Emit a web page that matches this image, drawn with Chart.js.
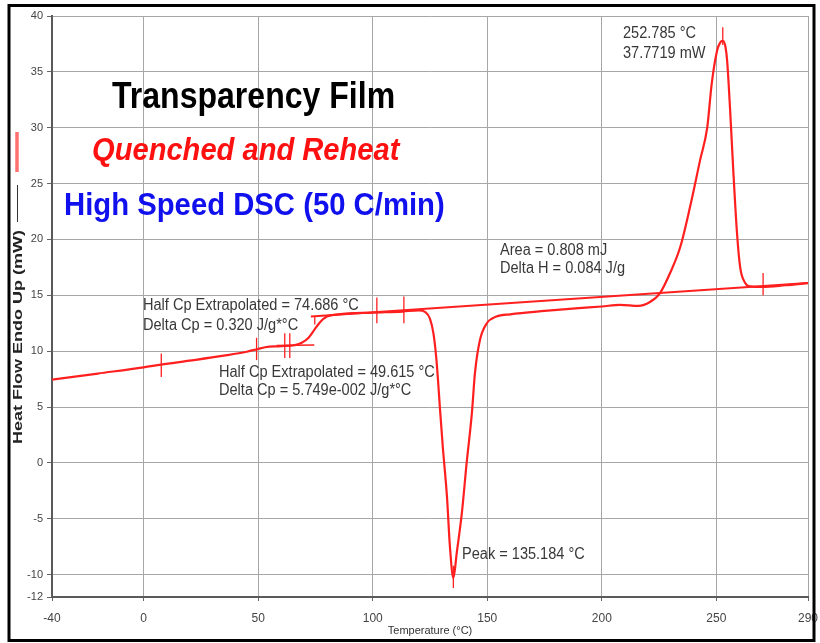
<!DOCTYPE html>
<html>
<head>
<meta charset="utf-8">
<script src="https://cdn.jsdelivr.net/npm/chart.js@4.4.1/dist/chart.umd.min.js"></script>
<style>
  html, body { margin: 0; padding: 0; background: #fff; }
  canvas { display: block; }
</style>
</head>
<body>
<canvas id="dsc" width="820" height="643"></canvas>
<script>
// axis ticks
const xTicks = [-40, 0, 50, 100, 150, 200, 250, 290];
const yTicks = [-12, -10, -5, 0, 5, 10, 15, 20, 25, 30, 35, 40];

// DSC trace
const tempC = [-40, -20, 0, 7.7, 20, 35, 45, 50, 53, 60, 66, 69, 72, 74.5, 77, 80, 85, 100, 113, 120, 123,
  125, 126.5, 127.7, 128.5, 129.3, 130.6, 132.4, 133.7, 135.2, 136.7, 138.9, 141, 143.3, 144.6, 146.8, 149.8,
  154, 160, 175, 190, 200, 208, 216, 221, 225.4, 229.8, 234.2, 238.5, 242.9, 246, 248, 250.3, 251.6, 252.8,
  254, 254.7, 256, 257.3, 259, 260.4, 262.6, 264.7, 270, 280, 290];
const heatFlow = [7.45, 8.0, 8.55, 8.8, 9.15, 9.6, 9.95, 10.2, 10.35, 10.45, 10.55, 10.75, 11.2, 11.9, 12.6, 13.1, 13.3, 13.45, 13.55, 13.65, 13.5,
  12.9, 11.6, 9.5, 7.4, 5.0, 1.4, -3.0, -7.5, -10.3, -8.0, -4.5, 0, 4.5, 8.0, 11.0, 12.5,
  13.1, 13.3, 13.6, 13.85, 14.0, 14.15, 14.05, 14.4, 15.2, 17.0, 19.3, 22.9, 27.1, 30.0, 34.0, 36.9, 37.6, 37.77,
  37.2, 36.0, 31.6, 26.5, 20.6, 17.5, 16.1, 15.8, 15.75, 15.9, 16.1];

// integration baseline and glass-step extrapolation
const baseTemp = [73, 290];
const baseFlow = [13.1, 16.1];
const stepTemp = [58, 74.5];
const stepFlow = [10.5, 10.55];

// short vertical analysis markers
const markTemp = [7.7, 49.3, 61.6, 63.8, 74.7, 101.8, 113.6, 135.2, 252.8, 270.4];
const markLow  = [7.7, 9.2, 9.4, 9.4, 12.4, 12.5, 12.5, -11.2, 37.4, 15.0];
const markHigh = [9.8, 11.2, 11.6, 11.6, 13.1, 14.8, 14.9, -9.2, 39.0, 17.0];

// texts
const titleLines = ['Transparency Film', 'Quenched and Reheat', 'High Speed DSC (50 C/min)'];
const noteLines = ['252.785 °C', '37.7719 mW', 'Area = 0.808 mJ', 'Delta H = 0.084 J/g',
  'Half Cp Extrapolated = 74.686 °C', 'Delta Cp = 0.320 J/g*°C',
  'Half Cp Extrapolated = 49.615 °C', 'Delta Cp = 5.749e-002 J/g*°C', 'Peak = 135.184 °C'];
const yTitle = 'Heat Flow Endo Up (mW)';
const xTitle = 'Temperature (°C)';

const SANS = '"Liberation Sans", Arial, sans-serif';
const RED = '#ff1f1f';

const titleStyle = [
  { x: 112, y: 108, font: 'bold 36px ' + SANS, color: '#000', sx: 0.89 },
  { x: 92, y: 160, font: 'italic bold 32px ' + SANS, color: '#ff1010', sx: 0.91 },
  { x: 64, y: 215, font: 'bold 32px ' + SANS, color: '#1010ee', sx: 0.915 }
];
const notePos = [[623, 38], [623, 58], [500, 255], [500, 273], [143, 310], [143, 330],
  [219, 377], [219, 395], [462, 559]];

function pairs(xs, ys) { return xs.map((x, i) => ({ x, y: ys[i] })); }

const lineSet = (data, width) => ({
  data, showLine: true, pointRadius: 0, borderColor: RED, borderWidth: width,
  tension: 0, fill: false
});

const datasets = [
  lineSet(pairs(baseTemp, baseFlow), 2),
  lineSet(pairs(stepTemp, stepFlow), 1.5),
  Object.assign(lineSet(pairs(tempC, heatFlow), 2.2), { cubicInterpolationMode: 'monotone' }),
  ...markTemp.map((t, i) => lineSet([{ x: t, y: markLow[i] }, { x: t, y: markHigh[i] }], 1.3))
];

function squished(ctx, text, x, y, font, color, sx) {
  ctx.save();
  ctx.font = font;
  ctx.fillStyle = color;
  ctx.textBaseline = 'alphabetic';
  ctx.translate(x, y);
  ctx.scale(sx, 1);
  ctx.fillText(text, 0, 0);
  ctx.restore();
}

const decor = {
  id: 'decor',
  afterDraw(chart) {
    const c = chart.ctx;
    titleLines.forEach((t, i) => {
      const s = titleStyle[i];
      squished(c, t, s.x, s.y, s.font, s.color, s.sx);
    });
    noteLines.forEach((t, i) => {
      squished(c, t, notePos[i][0], notePos[i][1], '16px ' + SANS, '#383838', 0.91);
    });

    // rotated y title
    c.save();
    c.translate(22, 337);
    c.rotate(-Math.PI / 2);
    c.scale(1, 0.72);
    c.font = 'bold 18px ' + SANS;
    c.fillStyle = '#222';
    c.textAlign = 'center';
    c.textBaseline = 'alphabetic';
    c.fillText(yTitle, 0, 0);
    c.restore();

    // legend swatches beside the title
    c.save();
    c.strokeStyle = '#ff7070';
    c.lineWidth = 3.5;
    c.beginPath(); c.moveTo(17, 132); c.lineTo(17, 172); c.stroke();
    c.strokeStyle = '#333';
    c.lineWidth = 1;
    c.beginPath(); c.moveTo(17.5, 185); c.lineTo(17.5, 222); c.stroke();

    // outer frame
    c.strokeStyle = '#000';
    c.lineWidth = 3;
    c.strokeRect(9, 5.5, 805, 635);
    c.restore();
  }
};

new Chart(document.getElementById('dsc'), {
  type: 'scatter',
  data: { datasets },
  options: {
    responsive: false,
    animation: false,
    layout: { padding: { left: 0, right: 12, top: 16, bottom: 0 } },
    plugins: { legend: { display: false }, tooltip: { enabled: false } },
    scales: {
      x: {
        type: 'linear', min: -40, max: 290,
        afterBuildTicks: s => { s.ticks = xTicks.map(v => ({ value: v })); },
        afterFit: s => { s.height = 46; s.paddingLeft = 0; s.paddingRight = 0; },
        ticks: { color: '#444', font: { family: SANS, size: 12 }, padding: 10, maxRotation: 0 },
        grid: { color: '#a6a6a6', lineWidth: 1, tickLength: 4, tickColor: '#666' },
        border: { color: '#5a5a5a', width: 2 },
        title: { display: true, text: xTitle, color: '#333', font: { family: SANS, size: 11 }, padding: { top: 0, bottom: 5 } }
      },
      y: {
        type: 'linear', min: -12, max: 40,
        afterBuildTicks: s => { s.ticks = yTicks.map(v => ({ value: v })); },
        afterFit: s => { s.width = 52; s.paddingTop = 0; s.paddingBottom = 0; },
        ticks: { color: '#444', font: { family: SANS, size: 11 }, padding: 4 },
        grid: { color: '#a6a6a6', lineWidth: 1, tickLength: 5, tickColor: '#666' },
        border: { color: '#5a5a5a', width: 2 }
      }
    }
  },
  plugins: [decor]
});
</script>
</body>
</html>
